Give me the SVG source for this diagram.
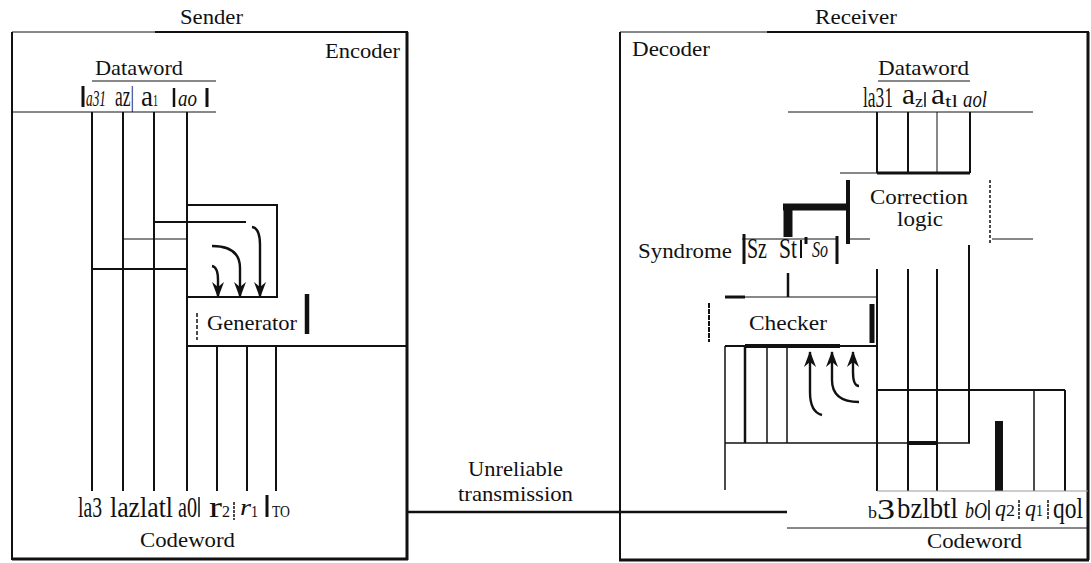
<svg xmlns="http://www.w3.org/2000/svg" width="1091" height="563" viewBox="0 0 1091 563">
<style>
text{font-family:"Liberation Serif","Times New Roman",serif;fill:#111}
.t{font-size:22px}
.lab{font-size:30px}
.it{font-size:24px;font-style:italic}
.sm{font-size:16px}
.w1{stroke:#111;stroke-width:1;fill:none}
.w2{stroke:#111;stroke-width:2;fill:none}
.w3{stroke:#111;stroke-width:3;fill:none}
.ar{stroke:#111;stroke-width:2.4;fill:none;marker-end:url(#ah)}
</style>
<defs>
<marker id="ah" viewBox="0 0 16 12" refX="15" refY="6" markerWidth="16" markerHeight="12" markerUnits="userSpaceOnUse" orient="auto">
<path d="M0,0 L16,6 L0,12 L5,6 Z" fill="#111"/>
</marker>
</defs>
<rect width="1091" height="563" fill="#fff"/>

<g id="sender">
<line class="w1" x1="12" y1="32" x2="155" y2="32" stroke-width="1.3"/>
<line class="w2" x1="155" y1="32" x2="408" y2="32"/>
<line class="w2" x1="12" y1="32" x2="12" y2="560" stroke-width="1.5"/>
<line class="w3" x1="407" y1="32" x2="407" y2="560" stroke-width="3.5"/>
<line class="w3" x1="12" y1="559" x2="408" y2="559"/>
<text class="t" x="180" y="24" textLength="63" lengthAdjust="spacingAndGlyphs">Sender</text>
<text class="t" x="325" y="58" textLength="75" lengthAdjust="spacingAndGlyphs">Encoder</text>
<text class="t" x="95" y="75" textLength="88" lengthAdjust="spacingAndGlyphs">Dataword</text>
<line class="w1" x1="92" y1="81" x2="216" y2="81"/>
<g id="sender-dataword-bits">
<line x1="83" y1="86" x2="83" y2="107" stroke="#111" stroke-width="3"/>
<text class="it" x="86" y="106" textLength="20" lengthAdjust="spacingAndGlyphs">a31</text>
<text class="lab" x="115" y="106" textLength="19" lengthAdjust="spacingAndGlyphs">az|</text>
<text class="lab" x="141" y="106" textLength="12" lengthAdjust="spacingAndGlyphs">a</text>
<text class="sm" x="153" y="106" textLength="5" lengthAdjust="spacingAndGlyphs">1</text>
<line x1="174" y1="88" x2="174" y2="107" stroke="#111" stroke-width="2.5"/>
<text class="it" x="178" y="106" textLength="19" lengthAdjust="spacingAndGlyphs">ao</text>
<line x1="207" y1="88" x2="207" y2="107" stroke="#111" stroke-width="3"/>
</g>
<line class="w1" x1="12" y1="112" x2="216" y2="112"/>
<g id="sender-codeword-bits">
<text class="lab" x="78" y="517" textLength="24" lengthAdjust="spacingAndGlyphs">la3</text>
<text class="lab" x="110" y="517" textLength="63" lengthAdjust="spacingAndGlyphs">lazlatl</text>
<text class="lab" x="178" y="517" textLength="19" lengthAdjust="spacingAndGlyphs">a0</text>
<line x1="199" y1="497" x2="199" y2="517" stroke="#111" stroke-width="1.5"/>
<text class="lab" x="209" y="517" textLength="13" lengthAdjust="spacingAndGlyphs">r</text>
<text class="sm" x="222" y="517" textLength="8" lengthAdjust="spacingAndGlyphs">2</text>
<line x1="234" y1="502" x2="234" y2="520" stroke="#111" stroke-width="1.5" stroke-dasharray="3,1"/>
<text class="it" x="240" y="515" textLength="11" lengthAdjust="spacingAndGlyphs">r</text>
<text class="sm" x="251" y="517" textLength="7" lengthAdjust="spacingAndGlyphs">1</text>
<line x1="267" y1="495" x2="267" y2="517" stroke="#111" stroke-width="3"/>
<text class="sm" x="272" y="517" textLength="18" lengthAdjust="spacingAndGlyphs">TO</text>
</g>
<text class="t" x="140" y="547" textLength="95" lengthAdjust="spacingAndGlyphs">Codeword</text>
</g>

<g id="generator">
<polyline class="w2" points="187,205 277,205 277,297 187,297"/>
<text class="t" x="207" y="330" textLength="90" lengthAdjust="spacingAndGlyphs">Generator</text>
<line x1="197" y1="313" x2="197" y2="340" stroke="#111" stroke-width="1.5" stroke-dasharray="4,2"/>
<line x1="307" y1="294" x2="307" y2="334" stroke="#111" stroke-width="4.5"/>
<path class="ar" d="M212,266 Q218,267 218,280 L218,297"/>
<path class="ar" d="M212,246 Q240,246 240,268 L240,297"/>
<path class="ar" d="M252,227 Q260,228 260,245 L260,297"/>
</g>

<g id="receiver">
<line class="w1" x1="620" y1="32" x2="767" y2="32" stroke-width="1.3"/>
<line class="w2" x1="767" y1="32" x2="1089" y2="32"/>
<line class="w2" x1="620" y1="32" x2="620" y2="492" stroke-width="2.5"/>
<line class="w2" x1="620" y1="492" x2="620" y2="560" stroke-width="1.5"/>
<line class="w3" x1="1088" y1="32" x2="1088" y2="560" stroke-width="3.5"/>
<line class="w3" x1="619" y1="560" x2="1089" y2="560"/>
<text class="t" x="815" y="24" textLength="82" lengthAdjust="spacingAndGlyphs">Receiver</text>
<text class="t" x="632" y="56" textLength="78" lengthAdjust="spacingAndGlyphs">Decoder</text>
<text class="t" x="878" y="75" textLength="91" lengthAdjust="spacingAndGlyphs">Dataword</text>
<line class="w1" x1="878" y1="81" x2="970" y2="81"/>
<g id="receiver-dataword-bits">
<text class="lab" x="863" y="107" textLength="30" lengthAdjust="spacingAndGlyphs">la31</text>
<text class="lab" x="902" y="104" textLength="13" lengthAdjust="spacingAndGlyphs">a</text>
<text class="sm" x="915" y="107" textLength="8" lengthAdjust="spacingAndGlyphs">z</text>
<line x1="925" y1="92" x2="925" y2="107" stroke="#111" stroke-width="1.5"/>
<text class="lab" x="931" y="104" textLength="14" lengthAdjust="spacingAndGlyphs">a</text>
<text class="sm" x="945" y="107" textLength="13" lengthAdjust="spacingAndGlyphs">tl</text>
<text class="it" x="963" y="107" textLength="24" lengthAdjust="spacingAndGlyphs">aol</text>
</g>
<line class="w1" x1="788" y1="112" x2="1033" y2="112"/>
<g id="receiver-codeword-bits">
<text class="sm" x="868" y="518" textLength="9" lengthAdjust="spacingAndGlyphs">b</text>
<text class="lab" x="877" y="519" textLength="18" lengthAdjust="spacingAndGlyphs">3</text>
<text class="lab" x="897" y="518" textLength="61" lengthAdjust="spacingAndGlyphs">bzlbtl</text>
<text class="it" x="965" y="518" textLength="22" lengthAdjust="spacingAndGlyphs">bO</text>
<line x1="989" y1="500" x2="989" y2="520" stroke="#111" stroke-width="1.5"/>
<text class="it" x="995" y="516" textLength="11" lengthAdjust="spacingAndGlyphs">q</text>
<text class="sm" x="1006" y="516" textLength="9" lengthAdjust="spacingAndGlyphs">2</text>
<line x1="1019" y1="500" x2="1019" y2="520" stroke="#111" stroke-width="1.5" stroke-dasharray="3,1"/>
<text class="it" x="1025" y="516" textLength="11" lengthAdjust="spacingAndGlyphs">q</text>
<text class="sm" x="1036" y="516" textLength="7" lengthAdjust="spacingAndGlyphs">1</text>
<line x1="1048" y1="500" x2="1048" y2="520" stroke="#111" stroke-width="1.5" stroke-dasharray="3,1"/>
<text class="lab" x="1053" y="518" textLength="30" lengthAdjust="spacingAndGlyphs">qol</text>
</g>
<line class="w1" x1="787" y1="528" x2="1088" y2="528"/>
<text class="t" x="927" y="548" textLength="95" lengthAdjust="spacingAndGlyphs">Codeword</text>
</g>

<g id="correction">
<line x1="848" y1="180" x2="848" y2="244" stroke="#111" stroke-width="4"/>
<line x1="990" y1="180" x2="990" y2="244" stroke="#111" stroke-width="1.5" stroke-dasharray="3,2"/>
<text class="t" x="870" y="204" textLength="98" lengthAdjust="spacingAndGlyphs">Correction</text>
<text class="t" x="897" y="226" textLength="46" lengthAdjust="spacingAndGlyphs">logic</text>
</g>

<g id="syndrome">
<text class="t" x="638" y="258" textLength="94" lengthAdjust="spacingAndGlyphs">Syndrome</text>
<line class="w1" x1="742" y1="239" x2="838" y2="239"/>
<line x1="744" y1="234" x2="744" y2="264" stroke="#111" stroke-width="3"/>
<line x1="837" y1="236" x2="837" y2="264" stroke="#111" stroke-width="3"/>
<line x1="806" y1="237" x2="806" y2="244" stroke="#111" stroke-width="3"/>
<text class="lab" x="747" y="258" textLength="20" lengthAdjust="spacingAndGlyphs">Sz</text>
<text class="lab" x="779" y="258" textLength="18" lengthAdjust="spacingAndGlyphs">St</text>
<line x1="801" y1="240" x2="801" y2="258" stroke="#111" stroke-width="2"/>
<text class="it" x="812" y="257" textLength="16" lengthAdjust="spacingAndGlyphs">So</text>
</g>

<g id="checker">
<line x1="709" y1="303" x2="709" y2="342" stroke="#111" stroke-width="2" stroke-dasharray="5,1"/>
<line x1="872" y1="304" x2="872" y2="343" stroke="#111" stroke-width="5"/>
<text class="t" x="749" y="330" textLength="78" lengthAdjust="spacingAndGlyphs">Checker</text>
<path class="ar" d="M822,415 Q810,412 810,392 L810,352"/>
<path class="ar" d="M859,402 Q832,402 832,380 L832,352"/>
<path class="ar" d="M859,386 Q853,386 853,372 L853,352"/>
</g>

<g id="transmission">
<text class="t" x="468" y="476" textLength="95" lengthAdjust="spacingAndGlyphs">Unreliable</text>
<text class="t" x="458" y="501" textLength="115" lengthAdjust="spacingAndGlyphs">transmission</text>
</g>

<g id="connectors">
<line class="w2" x1="92" y1="112" x2="92" y2="491"/>
<line class="w2" x1="123" y1="112" x2="123" y2="491"/>
<line class="w2" x1="154" y1="112" x2="154" y2="491"/>
<line class="w2" x1="187" y1="112" x2="187" y2="491"/>
<line class="w2" x1="154" y1="222" x2="246" y2="222"/>
<line class="w1" x1="123" y1="239" x2="187" y2="239"/>
<line class="w2" x1="92" y1="269" x2="187" y2="269"/>
<line class="w2" x1="187" y1="346" x2="408" y2="346"/>
<line class="w2" x1="217" y1="346" x2="217" y2="491"/>
<line class="w2" x1="247" y1="346" x2="247" y2="491"/>
<line class="w2" x1="276" y1="346" x2="276" y2="491"/>
<line x1="408" y1="512" x2="787" y2="512" stroke="#111" stroke-width="2.5"/>
<line class="w2" x1="877" y1="112" x2="877" y2="173"/>
<line class="w2" x1="908" y1="112" x2="908" y2="173"/>
<line class="w1" x1="937" y1="112" x2="937" y2="173"/>
<line class="w2" x1="970" y1="112" x2="970" y2="173"/>
<line class="w1" x1="840" y1="173" x2="877" y2="173"/>
<line class="w3" x1="877" y1="173" x2="970" y2="173"/>
<line class="w1" x1="850" y1="239" x2="870" y2="239"/>
<line class="w1" x1="992" y1="239" x2="1033" y2="239"/>
<line x1="783" y1="207" x2="848" y2="207" stroke="#111" stroke-width="7"/>
<line x1="788" y1="204" x2="788" y2="237" stroke="#111" stroke-width="9"/>
<line x1="788" y1="273" x2="788" y2="297" stroke="#111" stroke-width="2.5"/>
<line class="w1" x1="725" y1="297" x2="877" y2="297"/>
<line class="w3" x1="725" y1="297" x2="745" y2="297"/>
<line class="w2" x1="725" y1="346" x2="877" y2="346"/>
<line x1="745" y1="346" x2="840" y2="346" stroke="#111" stroke-width="4"/>
<line x1="725" y1="346" x2="725" y2="490" stroke="#111" stroke-width="1.5"/>
<line x1="745" y1="346" x2="745" y2="443" stroke="#111" stroke-width="2.5"/>
<line x1="767" y1="346" x2="767" y2="443" stroke="#111" stroke-width="1.5"/>
<line x1="787" y1="346" x2="787" y2="443" stroke="#111" stroke-width="1.5"/>
<line x1="725" y1="443" x2="970" y2="443" stroke="#111" stroke-width="1.5"/>
<line x1="908" y1="443" x2="937" y2="443" stroke="#111" stroke-width="4"/>
<line class="w2" x1="877" y1="269" x2="877" y2="491"/>
<line class="w2" x1="908" y1="269" x2="908" y2="491"/>
<line class="w2" x1="937" y1="269" x2="937" y2="491"/>
<line class="w2" x1="969" y1="245" x2="969" y2="443"/>
<line class="w2" x1="877" y1="390" x2="1065" y2="390"/>
<line x1="999" y1="421" x2="999" y2="491" stroke="#111" stroke-width="8"/>
<line x1="1034" y1="390" x2="1034" y2="491" stroke="#111" stroke-width="1.5"/>
<line class="w2" x1="1065" y1="390" x2="1065" y2="491"/>
<line x1="877" y1="491" x2="1088" y2="491" stroke="#999" stroke-width="1"/>
</g>
</svg>
